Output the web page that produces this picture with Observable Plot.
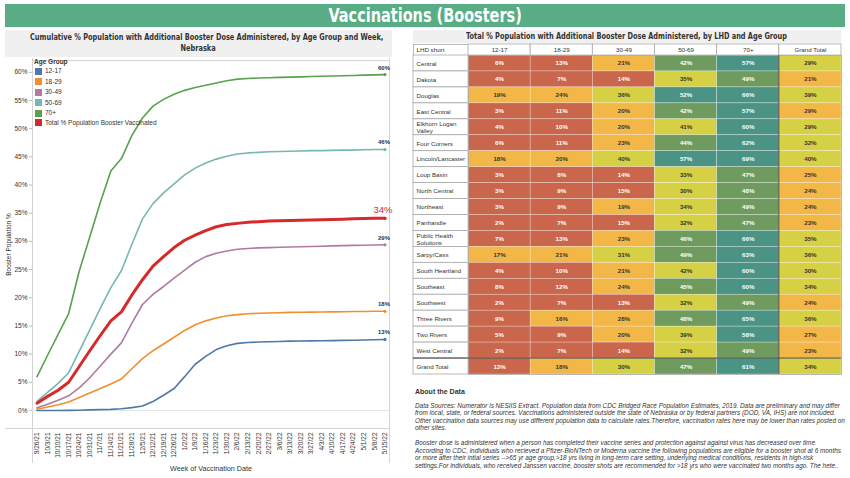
<!DOCTYPE html>
<html><head><meta charset="utf-8">
<script src="https://cdn.jsdelivr.net/npm/d3@7"></script>
<script src="https://cdn.jsdelivr.net/npm/@observablehq/plot@0.6"></script>
<style>
html,body{margin:0;padding:0;background:#fff}
body{width:850px;height:478px;position:relative;overflow:hidden;font-family:"Liberation Sans",Arial,sans-serif;color:#333}
.a{position:absolute}
.a svg{display:block;max-width:none !important;overflow:visible}
#banner{left:5px;top:4px;width:840px;height:23px;background:#58ad85;color:#fff;text-align:center;font:bold 19px/23px "DejaVu Sans Condensed","DejaVu Sans",sans-serif}
.fit{display:inline-block;white-space:nowrap;transform-origin:50% 50%}
.ttl{background:#f0f0f0;text-align:center;font:bold 8.4px/11px "DejaVu Sans Condensed","DejaVu Sans",sans-serif;color:#333;white-space:nowrap}
#lt{left:5px;top:30px;width:387px;height:27px;padding-top:2px;box-sizing:border-box}
#rt{left:413px;top:30px;width:428px;height:13px;line-height:13px}
#legend{left:34px;top:58px;font-size:6.5px;line-height:8px;color:#333}
#legend .h{font-weight:bold;height:8px}
#legend .it{display:flex;align-items:center;height:10.5px}
#legend .it.last{height:8px}
#legend .sw{width:7px;height:7px;margin:0 3px 0 1px}
.vl{background:#d4d4d4;width:1px}
.hl{background:#d4d4d4;height:1px}
#about{left:415px;top:388px;font-size:6.4px;line-height:7.5px;color:#333;white-space:nowrap}
#about .h{font-weight:bold;font-size:7px;margin-bottom:6px}
#about .p{font-style:italic}
</style></head><body>
<div id="banner" class="a"><span class="fit" data-w="193">Vaccinations (Boosters)</span></div>
<div id="lt" class="a ttl"><span class="fit" data-w="353">Cumulative % Population with Additional Booster Dose Administered, by Age Group and Week,</span><br><span class="fit" data-s="1">Nebraska</span></div>
<div id="rt" class="a ttl"><span class="fit" data-w="321">Total % Population with Additional Booster Dose Administered, by LHD and Age Group</span></div>
<div class="a vl" style="left:32px;top:58px;height:405px"></div>
<div class="a vl" style="left:389px;top:58px;height:405px"></div>
<div class="a hl" style="left:5px;top:428px;width:385px"></div>
<div id="line" class="a" style="left:0;top:58px;width:392px;height:420px"></div>
<div id="legend" class="a"></div>
<div id="th0" class="a" style="left:413px;top:44px;width:55px;height:11px"></div>
<div id="th1" class="a" style="left:468px;top:44px;width:373px;height:11px"></div>
<div id="tb0" class="a" style="left:413px;top:55px;width:55px;height:319px"></div>
<div id="tb1" class="a" style="left:468px;top:55px;width:373px;height:319px"></div>
<div id="about" class="a">
<div class="h">About the Data</div>
<div class="p">Data Sources: Numerator is NESIIS Extract. Population data from CDC Bridged Race Population Estimates, 2019. Data are preliminary and may differ<br>from local, state, or federal sources. Vaccinations administered outside the state of Nebraska or by federal partners (DOD, VA, IHS) are not included.<br>Other vaccination data sources may use different population data to calculate rates.Therefore, vaccination rates here may be lower than rates posted on<br>other sites.<br><br>Booster dose is administered when a person has completed their vaccine series and protection against against virus has decreased over time.<br>According to CDC, individuals who recieved a Pfizer-BioNTech or Moderna vaccine the following populations are eligible for a booster shot at 6 months<br>or more after their intial series --&gt;65 yr age group,&gt;18 yrs living in long-term care setting, underlying medical conditions, residents in high-risk<br>settings.For individuals, who received Janssen vaccine, booster shots are recommended for &gt;18 yrs who were vaccinated two months ago. The hete..</div>
</div>
<script>
// ---------- line chart data ----------
const weeks = ["9/26/21","10/3/21","10/10/21","10/17/21","10/24/21","10/31/21","11/7/21","11/14/21","11/21/21","11/28/21","12/5/21","12/12/21","12/19/21","12/26/21","1/2/22","1/9/22","1/16/22","1/23/22","1/30/22","2/6/22","2/13/22","2/20/22","2/27/22","3/6/22","3/13/22","3/20/22","3/27/22","4/3/22","4/10/22","4/17/22","4/24/22","5/1/22","5/8/22","5/15/22"];
const ageGroups = ["12-17","18-29","30-49","50-69","70+"];
const totalName = "Total % Population Booster Vaccinated";
const s12_17 = [0,0,0,0.02,0.05,0.1,0.15,0.2,0.3,0.5,0.8,1.6,2.7,3.9,6.0,8.2,9.6,10.8,11.5,11.9,12.05,12.15,12.2,12.25,12.3,12.32,12.35,12.38,12.4,12.43,12.46,12.5,12.55,12.6];
const s18_29 = [0.2,0.6,1.0,1.5,2.3,3.1,3.9,4.7,5.6,7.4,9.2,10.6,11.8,13.0,14.2,15.2,15.9,16.4,16.8,17.0,17.15,17.25,17.3,17.35,17.4,17.42,17.45,17.48,17.5,17.52,17.55,17.57,17.6,17.6];
const s30_49 = [0.5,1.1,1.8,2.6,4.0,5.8,7.9,10.0,12.0,15.5,18.8,20.6,22.0,23.5,24.9,26.3,27.3,27.9,28.3,28.6,28.75,28.85,28.9,28.95,29.0,29.05,29.1,29.15,29.2,29.25,29.3,29.32,29.35,29.4];
const s50_69 = [1.6,3.2,4.8,6.7,10.5,14.3,18.1,21.8,24.8,29.5,34.0,36.7,38.6,40.2,41.8,43.0,43.9,44.6,45.1,45.5,45.7,45.8,45.9,45.95,46.0,46.05,46.1,46.1,46.15,46.2,46.2,46.25,46.3,46.3];
const s70plus = [6.0,9.8,13.5,17.2,24.7,30.8,36.9,42.5,44.7,48.8,51.9,54.0,55.2,56.1,56.8,57.3,57.7,58.1,58.5,58.8,58.9,59.0,59.05,59.1,59.15,59.2,59.25,59.3,59.35,59.4,59.45,59.5,59.55,59.6];
const sTotal = [1.3,2.5,3.6,5.0,7.8,10.6,13.3,15.9,17.5,20.5,23.2,25.6,27.3,28.9,30.2,31.1,31.9,32.6,33.0,33.2,33.4,33.5,33.6,33.65,33.7,33.75,33.8,33.85,33.9,33.95,34.0,34.05,34.1,34.1];
const yTicks = [0,5,10,15,20,25,30,35,40,45,50,55,60];

// ---------- table data ----------
const lhds = ["Central","Dakota","Douglas","East Central","Elkhorn Logan Valley","Four Corners","Lincoln/Lancaster","Loup Basin","North Central","Northeast","Panhandle","Public Health Solutions","Sarpy/Cass","South Heartland","Southeast","Southwest","Three Rivers","Two Rivers","West Central"];
const tableCols = ["12-17","18-29","30-49","50-69","70+","Grand Total"];
const c12_17 = [6,4,19,3,4,6,18,3,3,3,2,7,17,4,8,2,9,5,2];
const c18_29 = [13,7,24,11,10,11,20,8,9,9,7,13,21,10,12,7,16,9,7];
const c30_49 = [21,14,36,20,20,23,40,14,15,19,15,23,31,21,24,13,28,20,14];
const c50_69 = [42.3,35,52,42.2,41,44,57,33,30,34,32,46,49,41.7,45,32,48,39,32];
const c70plus = [57,49,66,57,60,62,69,47,48,49,47,66,63,60,60,49,65,58,49];
const cGrand = [29.3,21,39,28.8,29.4,32,40,25,24,24,23,35,36,30,34,24,36,27,23];
const grandTotalRow = [13,18,30,47,61,34];

// ---------- styles ----------
const seriesNames = [...ageGroups, totalName];
const seriesColors = ["#4e79a7","#f28e2b","#b07aa1","#76b7b2","#59a14f","#d62a2a"];
const heatThresholds = [15.5, 29, 42, 50];
const heatColors = ["#c9664c","#f3b747","#d6d144","#6f9c5e","#4b9485"];
const font = "'Liberation Sans', Arial, sans-serif";

// fit title texts horizontally
let titleScale = 1;
document.querySelectorAll(".fit[data-w]").forEach(el => {
  const s = +el.dataset.w / el.offsetWidth;
  el.style.transform = `scaleX(${s})`;
  if (el.parentElement.id === "lt") titleScale = s;
});
document.querySelectorAll(".fit[data-s]").forEach(el => el.style.transform = `scaleX(${titleScale})`);

// ---------- line chart ----------
const seriesValues = [s12_17, s18_29, s30_49, s50_69, s70plus, sTotal];
const lineData = seriesNames.flatMap((name, k) => weeks.map((w, i) => ({week: w, value: seriesValues[k][i], series: name})));
const ageData = lineData.filter(d => d.series !== totalName);
const totData = lineData.filter(d => d.series === totalName);
const pct = d => Math.round(d.value) + "%";

const line = Plot.plot({
  width: 392, height: 420,
  marginLeft: 32, marginRight: 3, marginTop: 2, marginBottom: 50,
  style: {fontFamily: font, fontSize: "6.5px", color: "#333", background: "transparent", overflow: "visible"},
  x: {type: "point", domain: weeks, padding: 0.43, round: false},
  y: {domain: [-3.2, 62.1]},
  color: {domain: seriesNames, range: seriesColors},
  marks: [
    Plot.frame({stroke: "#d4d4d4"}),
    Plot.ruleY([0], {stroke: "#e4e4e4"}),
    Plot.axisY(yTicks, {tickFormat: d => d + "%", tickSize: 3, tickPadding: 2, stroke: "#bbb", fill: "#333", fontSize: 6.5,
      label: "Booster Population %", labelAnchor: "center", labelArrow: "none", labelOffset: 26}),
    Plot.axisX({tickRotate: -90, tickSize: 0, tickPadding: 4, fontSize: 6.5, fill: "#333", label: null}),
    Plot.axisX({ticks: [], tickSize: 0, fontSize: 7.2, fill: "#333",
      label: "Week of Vaccination Date", labelAnchor: "center", labelArrow: "none", labelOffset: 42}),
    Plot.line(ageData, {x: "week", y: "value", z: "series", stroke: "series", strokeWidth: 1.6}),
    Plot.line(totData, {x: "week", y: "value", stroke: "series", strokeWidth: 3}),
    Plot.dot(lineData, Plot.selectLast({x: "week", y: "value", z: "series", fill: "series", r: 1.6})),
    Plot.text(ageData, Plot.selectLast({x: "week", y: "value", z: "series", text: pct, dy: -7, dx: -1, fontSize: 6, fontWeight: "bold", fill: "#333"})),
    Plot.text(totData, Plot.selectLast({x: "week", y: "value", text: pct, dy: -8, dx: -2, fontSize: 9.5, fill: "#d62a2a"}))
  ]
});
document.getElementById("line").appendChild(line);

// legend
const lg = document.getElementById("legend");
lg.innerHTML = '<div class="h">Age Group</div>' + seriesNames.map((n, k) =>
  `<div class="it${k === seriesNames.length - 1 ? " last" : ""}"><div class="sw" style="background:${seriesColors[k]}"></div>${n}</div>`).join("");

// ---------- table ----------
const tableRows = [...lhds, "Grand Total"];
const colArrays = [c12_17, c18_29, c30_49, c50_69, c70plus, cGrand];
const cells = [];
tableRows.forEach((r, i) => tableCols.forEach((c, j) =>
  cells.push({row: r, col: c, value: i < lhds.length ? colArrays[j][i] : grandTotalRow[j]})));
const isLight = d => d.value < heatThresholds[0] || d.value >= heatThresholds[2];
const tStyle = {fontFamily: font, fontSize: "6.2px", color: "#333", overflow: "visible", background: "transparent"};
const gridStroke = "#a8a8a8";
const band = {axis: null, padding: 0, round: false};

const th0 = Plot.plot({width: 55, height: 11, margin: 0, style: tStyle,
  marks: [Plot.frame({fill: "white", stroke: gridStroke, strokeWidth: 0.8}),
          Plot.text(["LHD short"], {text: d => d, frameAnchor: "left", dx: 3, fontSize: 6.2, fill: "#333"})]});
const th1 = Plot.plot({width: 373, height: 11, margin: 0, style: tStyle,
  x: {domain: tableCols, ...band},
  marks: [Plot.cell(tableCols, {x: d => d, fill: "white", stroke: gridStroke, strokeWidth: 0.8}),
          Plot.text(tableCols, {x: d => d, text: d => d, fontSize: 6.2, fill: "#333"})]});
const tb0 = Plot.plot({width: 55, height: 319, margin: 0, style: tStyle,
  y: {domain: tableRows, ...band},
  marks: [Plot.cell(tableRows, {y: d => d, fill: "white", stroke: gridStroke, strokeWidth: 0.8}),
          Plot.text(tableRows, {y: d => d, text: d => d, frameAnchor: "left", textAnchor: "start", dx: 3, lineWidth: 8.2, lineHeight: 1.15, fontSize: 6.2, fill: "#333"})]});
const tb1 = Plot.plot({width: 373, height: 319, margin: 0, style: tStyle,
  x: {domain: tableCols, ...band},
  y: {domain: tableRows, ...band},
  color: {type: "threshold", domain: heatThresholds, range: heatColors},
  marks: [
    Plot.cell(cells, {x: "col", y: "row", fill: "value", stroke: "#ffffff", strokeOpacity: 0.45, strokeWidth: 0.6}),
    Plot.text(cells, {filter: isLight, x: "col", y: "row", text: pct, fill: "#fff", fontSize: 6.2, fontWeight: "bold"}),
    Plot.text(cells, {filter: d => !isLight(d), x: "col", y: "row", text: pct, fill: "#333", fontSize: 6.2, fontWeight: "bold"}),
    Plot.frame({stroke: gridStroke, strokeWidth: 0.8})
  ]});
const sx = tb1.scale("x"), sy = tb1.scale("y");
const gx = sx.apply("Grand Total"), gy = sy.apply("Grand Total");
d3.select(tb1).append("line").attr("x1", gx).attr("x2", gx).attr("y1", 0).attr("y2", 319).attr("stroke", "#444").attr("stroke-width", 1);
d3.select(tb1).append("line").attr("x1", 0).attr("x2", 373).attr("y1", gy).attr("y2", gy).attr("stroke", "#444").attr("stroke-width", 1);
const gy0 = tb0.scale("y").apply("Grand Total");
d3.select(tb0).append("line").attr("x1", 0).attr("x2", 55).attr("y1", gy0).attr("y2", gy0).attr("stroke", "#444").attr("stroke-width", 1);
document.getElementById("th0").appendChild(th0);
document.getElementById("th1").appendChild(th1);
document.getElementById("tb0").appendChild(tb0);
document.getElementById("tb1").appendChild(tb1);
</script>
</body></html>
